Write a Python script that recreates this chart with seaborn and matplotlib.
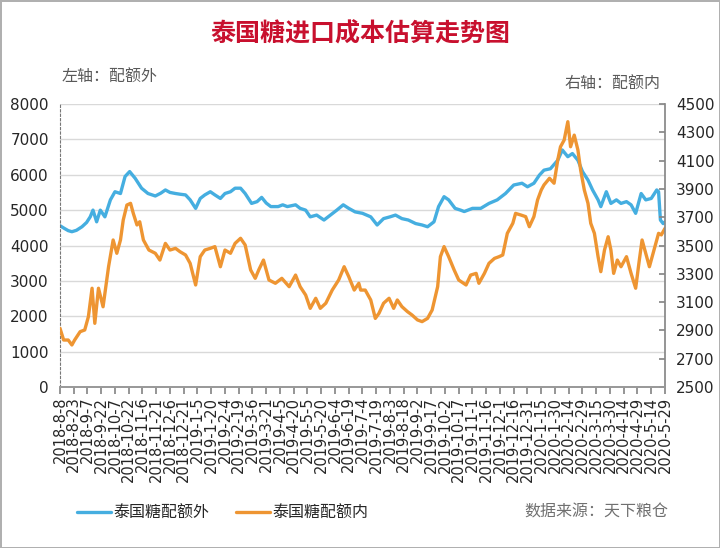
import pandas as pd
import matplotlib.pyplot as plt
import seaborn as sns

# Days counted from 2018-08-08
out_day = [0, 5, 9, 13, 18, 24, 29, 33, 36, 40, 44, 49, 55, 60, 66, 71, 76, 82, 89, 96,
           104, 110, 115, 120, 126, 131, 137, 142, 148, 153, 158, 164, 169, 175, 180, 186, 191, 197, 202, 209,
           215, 220, 225, 230, 238, 243, 248, 257, 262, 268, 273, 280, 288, 295, 302, 309, 315, 322, 330, 339,
           346, 353, 360, 366, 373, 380, 388, 395, 401, 408, 413, 419, 424, 431, 437, 441, 450, 459, 468, 477,
           486, 495, 504, 510, 517, 523, 528, 535, 543, 548, 554, 559, 565, 570, 576, 581, 587, 590, 596, 601,
           607, 612, 618, 623, 628, 634, 639, 645, 651, 653, 655, 658, 660]
out_val = [4560, 4480, 4420, 4390, 4430, 4530, 4650, 4810, 5000, 4670, 5000, 4810, 5290, 5520, 5470, 5950, 6090, 5900, 5620, 5470,
           5400, 5480, 5570, 5500, 5470, 5450, 5430, 5290, 5050, 5330, 5430, 5520, 5430, 5330, 5470, 5520, 5620, 5620, 5470, 5190,
           5240, 5360, 5200, 5100, 5100, 5150, 5100, 5150, 5050, 5000, 4810, 4860, 4720, 4860, 5000, 5150, 5050, 4950, 4910, 4810,
           4580, 4760, 4810, 4860, 4760, 4720, 4620, 4580, 4530, 4670, 5100, 5380, 5290, 5050, 5000, 4960, 5050, 5050, 5190, 5290,
           5470, 5710, 5760, 5660, 5760, 5990, 6130, 6170, 6410, 6700, 6510, 6600, 6410, 6090, 5850, 5570, 5290, 5100, 5520, 5190,
           5290, 5190, 5240, 5150, 4910, 5470, 5290, 5330, 5570, 5520, 4720, 4620, 4670]

in_day = [0, 4, 9, 13, 16, 22, 27, 31, 35, 38, 42, 47, 53, 58, 62, 66, 69, 73, 77, 80,
          84, 87, 91, 97, 104, 109, 115, 120, 126, 131, 137, 142, 148, 153, 158, 164, 169, 175, 180, 186,
          191, 197, 202, 208, 213, 217, 222, 228, 235, 242, 250, 257, 262, 268, 273, 279, 284, 290, 297, 304,
          310, 315, 321, 326, 328, 333, 339, 344, 348, 353, 359, 364, 368, 373, 379, 384, 390, 395, 401, 406,
          412, 415, 419, 424, 430, 435, 443, 448, 454, 457, 463, 468, 474, 479, 483, 488, 494, 497, 503, 508,
          512, 517, 521, 525, 528, 534, 539, 543, 546, 550, 554, 557, 561, 565, 568, 572, 576, 579, 583, 587,
          590, 594, 598, 601, 604, 608, 612, 618, 623, 628, 632, 635, 639, 643, 649, 653, 656, 660]
in_val = [2915, 2832, 2832, 2797, 2832, 2891, 2903, 2997, 3198, 2950, 3198, 3067, 3350, 3539, 3445, 3539, 3680, 3786, 3798, 3727,
          3645, 3668, 3539, 3468, 3445, 3397, 3515, 3468, 3480, 3456, 3433, 3374, 3221, 3421, 3468, 3480, 3492, 3350, 3468, 3445,
          3515, 3551, 3504, 3327, 3268, 3330, 3397, 3256, 3233, 3268, 3209, 3291, 3209, 3150, 3056, 3127, 3056, 3092, 3185, 3256,
          3350, 3280, 3185, 3233, 3185, 3185, 3115, 2985, 3021, 3092, 3127, 3056, 3115, 3068, 3033, 3009, 2974, 2962, 2985, 3044,
          3209, 3421, 3492, 3421, 3327, 3256, 3221, 3291, 3303, 3233, 3303, 3374, 3409, 3421, 3433, 3586, 3657, 3727, 3715, 3704,
          3633, 3704, 3822, 3892, 3928, 3975, 3940, 4104, 4198, 4245, 4375, 4198, 4280, 4175, 4033, 3892, 3798, 3657, 3586, 3421,
          3315, 3468, 3562, 3468, 3303, 3397, 3350, 3421, 3303, 3198, 3397, 3539, 3445, 3350, 3492, 3586, 3575, 3621]

series_names = ["泰国糖配额外", "泰国糖配额内"]
colors = ["#45aee0", "#ee9532"]

start = pd.Timestamp("2018-08-08")
end = pd.Timestamp("2020-05-29")
df_out = pd.DataFrame({"date": start + pd.to_timedelta(out_day, unit="D"), "value": out_val})
df_in = pd.DataFrame({"date": start + pd.to_timedelta(in_day, unit="D"), "value": in_val})

sns.set_theme(style="white")
plt.rcParams["font.family"] = ["Noto Sans CJK SC", "DejaVu Sans"]

fig = plt.figure(figsize=(7.2, 5.48), dpi=100)
fig.patch.set_edgecolor("#b0b0b0")
fig.patch.set_linewidth(2)
ax = fig.add_axes([0.0833, 0.2938, 0.8403, 0.5164])
ax2 = ax.twinx()

sns.lineplot(data=df_out, x="date", y="value", ax=ax, color=colors[0], linewidth=2.4, label=series_names[0], legend=False)
sns.lineplot(data=df_in, x="date", y="value", ax=ax2, color=colors[1], linewidth=2.4, label=series_names[1], legend=False)

ax.set_ylim(0, 8000)
ax.set_yticks(range(0, 8001, 1000))
ax2.set_ylim(2500, 4500)
ax2.set_yticks(range(2500, 4501, 200))
ax.set_xlim(start, end)
ticks = pd.date_range(start, end, freq="15D")
ax.set_xticks(ticks)
ax.set_xticklabels([f"{d.year}-{d.month}-{d.day}" for d in ticks], rotation=90, fontsize=10.5,
                   family="DejaVu Sans")
ax.set_xlabel("")
ax.set_ylabel("")
ax2.set_ylabel("")
ax.grid(axis="y", color="#d9d9d9", linewidth=1)
ax.tick_params(axis="x", direction="out", length=5, color="#888888", bottom=True, pad=2)
ax.tick_params(axis="y", length=0, labelsize=11, pad=8)
ax2.tick_params(axis="y", direction="in", length=4, color="#888888", right=True, labelsize=11, pad=8)
for lab in ax.get_yticklabels() + ax2.get_yticklabels():
    lab.set_family("DejaVu Sans")

for a in (ax, ax2):
    a.spines["top"].set_visible(False)
ax.spines["left"].set_color("#777777")
ax.spines["left"].set_linestyle((0, (2, 2)))
ax.spines["left"].set_linewidth(0.8)
ax2.spines["left"].set_visible(False)
ax2.spines["right"].set_color("#888888")
ax2.spines["bottom"].set_color("#999999")
ax.spines["bottom"].set_color("#999999")
ax.spines["right"].set_visible(False)

fig.text(0.5, 0.938, "泰国糖进口成本估算走势图", ha="center", va="center", fontsize=18,
         fontweight="bold", color="#c8102e")
fig.text(0.086, 0.859, "左轴：配额外", ha="left", va="center", fontsize=11.5, color="#595959")
fig.text(0.918, 0.846, "右轴：配额内", ha="right", va="center", fontsize=11.5, color="#595959")

handles = ax.get_lines()[:1] + ax2.get_lines()[:1]
fig.legend(handles, series_names, loc="center left", bbox_to_anchor=(0.107, 1 - 513 / 548), ncol=2,
           frameon=False, fontsize=11.5, handlelength=2.1, handletextpad=0.15, columnspacing=1.7,
           borderaxespad=0, borderpad=0)
fig.text(0.928, 1 - 512 / 548, "数据来源：天下粮仓", ha="right", va="center", fontsize=11.5,
         color="#707070", style="italic")

fig.savefig("out.png", dpi=100)
